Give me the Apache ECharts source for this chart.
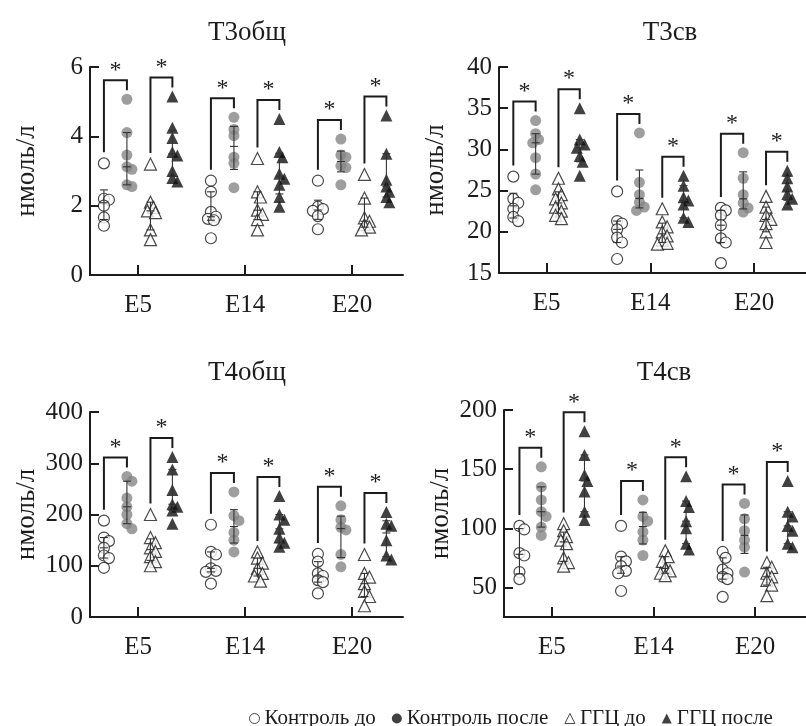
<!DOCTYPE html>
<html><head><meta charset="utf-8">
<script src="https://cdn.jsdelivr.net/npm/echarts@6/dist/echarts.min.js"></script>
<style>html,body{margin:0;padding:0;background:#fff}#c{width:806px;height:726px}</style>
</head><body><div id="c"></div>
<script>
// ---------- DATA ----------
const categories = ['E5', 'E14', 'E20'];
const groupNames = ['Контроль до', 'Контроль после', 'ГГЦ до', 'ГГЦ после'];
const panelTitles = ['Т3общ', 'Т3св', 'Т4общ', 'Т4св'];
const yAxisName = 'нмоль/л';
const t4freeTicks = [50, 100, 150, 200];

// each array: [E5 values, E14 values, E20 values]
const t3tot_ctrlBefore = [[3.22,2.2,2.17,2.0,1.66,1.42],[2.72,2.4,1.82,1.68,1.62,1.58,1.06],[2.72,1.97,1.9,1.85,1.7,1.32]];
const t3tot_ctrlAfter  = [[5.07,4.11,3.46,3.12,3.05,2.6,2.55],[4.55,4.2,4.02,3.4,3.22,2.52],[3.92,3.46,3.4,3.15,3.1,2.6]];
const t3tot_ggcBefore  = [[3.2,2.1,1.95,1.85,1.8,1.3,1.02],[3.36,2.4,2.25,1.87,1.75,1.6,1.3],[2.9,2.22,1.65,1.55,1.45,1.38,1.3]];
const t3tot_ggcAfter   = [[5.15,4.25,3.95,3.55,3.45,3.0,2.8,2.7],[4.5,3.55,3.4,2.92,2.78,2.6,2.25,1.97],[4.6,3.5,2.75,2.55,2.4,2.25,2.1]];

const t3free_ctrlBefore = [[26.7,24.0,23.5,22.8,21.8,21.3],[24.9,21.3,21.0,20.3,19.3,18.7,16.7],[22.9,22.6,22.0,20.8,19.2,18.7,16.2]];
const t3free_ctrlAfter  = [[33.5,31.9,31.2,30.8,29.0,27.0,25.1],[32.0,26.0,24.5,23.6,23.0,22.6],[29.6,26.5,24.5,23.5,22.9,22.4]];
const t3free_ggcBefore  = [[26.5,25.2,24.5,24.0,23.5,23.0,22.5,22.0,21.6],[22.8,21.2,20.6,20.0,19.5,19.0,18.6,18.5],[24.3,23.0,22.0,21.5,21.0,20.0,18.7]];
const t3free_ggcAfter   = [[35.0,31.2,30.6,30.2,29.2,28.5,26.8],[26.8,25.6,24.2,23.8,23.3,21.7,21.2],[27.4,26.5,25.5,24.6,24.0,23.3]];

const t4tot_ctrlBefore = [[188,155,148,135,120,115,96],[180,127,122,95,90,88,65],[123,108,85,80,72,68,46]];
const t4tot_ctrlAfter  = [[274,265,232,215,200,182,172],[244,198,188,165,150,127],[217,190,175,170,122,98]];
const t4tot_ggcBefore  = [[200,155,145,135,128,118,108,100],[127,115,105,95,85,80,70],[122,85,78,65,50,40,22]];
const t4tot_ggcAfter   = [[312,288,248,220,215,208,182],[236,200,190,172,155,145,137],[205,182,178,150,120,112]];

const t4free_ctrlBefore = [[102,99,79,77,63,57],[102,76,72,68,64,62,47],[80,75,65,62,59,57,42]];
const t4free_ctrlAfter  = [[152,135,124,114,110,101,94],[124,110,106,97,90,77],[121,108,98,90,84,63]];
const t4free_ggcBefore  = [[104,98,93,90,87,75,71,68],[81,76,72,66,64,62,60],[71,67,62,59,56,52,43]];
const t4free_ggcAfter   = [[182,162,145,140,131,114,107],[144,123,118,106,100,87,82],[140,114,110,102,98,87,84]];

// ---------- LAYOUT / STYLE ----------
const FONT = 'Liberation Serif';
const INK = '#1c1c1c';
const panels = [
  {groups:[t3tot_ctrlBefore,t3tot_ctrlAfter,t3tot_ggcBefore,t3tot_ggcAfter], left:90, top:67, height:208, xmin:-0.45, xmax:2.475, unit:107, ymin:0, ymax:6, interval:2},
  {groups:[t3free_ctrlBefore,t3free_ctrlAfter,t3free_ggcBefore,t3free_ggcAfter], left:499, top:67, height:206, xmin:-0.458, xmax:2.5, unit:107, ymin:15, ymax:40, interval:5},
  {groups:[t4tot_ctrlBefore,t4tot_ctrlAfter,t4tot_ggcBefore,t4tot_ggcAfter], left:90, top:412, height:205, xmin:-0.45, xmax:2.475, unit:107, ymin:0, ymax:400, interval:100},
  {groups:[t4free_ctrlBefore,t4free_ctrlAfter,t4free_ggcBefore,t4free_ggcAfter], left:504, top:410, height:207, xmin:-0.472, xmax:2.5, unit:106, ymin:25, ymax:200, custom:t4freeTicks}
];
const titlePos = [[247,33],[670,33],[247,373],[664,373]];
const groupOffset = [-0.32, -0.105, 0.115, 0.32];
const symbols = ['circle','circle','triangle','triangle'];
const sizes = [11, 11, 12, 12];
const styles = [
  {color:'#fff', borderColor:INK, borderWidth:1.2},
  {color:'#868686'},
  {color:'#fff', borderColor:INK, borderWidth:1.2},
  {color:'#111'}
];

function quant(sorted, p){ // GraphPad-style percentile
  const n = sorted.length; let pos = p*(n+1);
  if (pos < 1) pos = 1; if (pos > n) pos = n;
  const lo = Math.floor(pos), hi = Math.ceil(pos);
  return sorted[lo-1] + (pos-lo)*(sorted[hi-1]-sorted[lo-1]);
}
function swarm(vals, pxPerY){
  const order = vals.map((v,i)=>i).sort((a,b)=>vals[b]-vals[a]);
  const placed = []; const off = new Array(vals.length).fill(0);
  const cands = [0,3,-3,5,-5];
  for (const i of order){
    const y = vals[i]*pxPerY; let best = 0, bestD = -1;
    for (const c of cands){
      let d = Infinity; for (const p of placed) d = Math.min(d, Math.hypot(p.x-c, p.y-y));
      if (d >= 6) { best = c; bestD = d; break; }
      if (d > bestD){ bestD = d; best = c; }
    }
    off[i] = best; placed.push({x:best, y});
  }
  return off;
}

const grid = [], xAxis = [], yAxis = [], series = [], graphic = [];
panels.forEach((P, pi) => {
  grid.push({left:P.left, top:P.top, width:(P.xmax-P.xmin)*P.unit, height:P.height});
  xAxis.push({type:'value', gridIndex:pi, min:P.xmin, max:P.xmax,
    axisLine:{show:true, onZero:false, lineStyle:{color:INK, width:2}},
    axisTick:{show:true, inside:true, length:10, customValues:[0,1,2], lineStyle:{color:INK, width:2}},
    axisLabel:{customValues:[0,1,2], formatter:v=>categories[Math.round(v)], fontSize:25, fontFamily:FONT, color:INK, margin:18},
    splitLine:{show:false}});
  const ya = {type:'value', gridIndex:pi, min:P.ymin, max:P.ymax,
    axisLine:{show:true, onZero:false, lineStyle:{color:INK, width:2}},
    axisTick:{show:true, inside:true, length:9, lineStyle:{color:INK, width:2}},
    axisLabel:{fontSize:25, fontFamily:FONT, color:INK, margin:7},
    splitLine:{show:false},
    name:yAxisName, nameLocation:'middle', nameGap:50, nameRotate:90,
    nameTextStyle:{fontSize:27, fontFamily:FONT, color:INK}};
  if (P.custom){ ya.axisLabel.customValues = P.custom; ya.axisTick.customValues = P.custom; }
  else ya.interval = P.interval;
  yAxis.push(ya);
  const pxPerY = P.height/(P.ymax-P.ymin);
  const errData = [], brData = [];
  P.groups.forEach((arr, g) => {
    const pts = [];
    arr.forEach((vals, ci) => {
      const off = swarm(vals, pxPerY);
      vals.forEach((v, k) => pts.push([ci + groupOffset[g] + off[k]/P.unit, v]));
      const s = vals.slice().sort((a,b)=>a-b);
      errData.push([ci + groupOffset[g], quant(s,0.25), quant(s,0.5), quant(s,0.75)]);
    });
    series.push({type:'scatter', name:groupNames[g], xAxisIndex:pi, yAxisIndex:pi,
      symbol:symbols[g], symbolSize:sizes[g], itemStyle:styles[g], data:pts, z:2,
      emphasis:{disabled:true}});
  });
  for (let ci=0; ci<3; ci++){
    for (const [a,b] of [[0,1],[2,3]]){
      brData.push([ci+groupOffset[a], ci+groupOffset[b], Math.max(...P.groups[a][ci]), Math.max(...P.groups[b][ci])]);
    }
  }
  series.push({type:'custom', name:'err'+pi, xAxisIndex:pi, yAxisIndex:pi, z:4, silent:true,
    encode:{x:0, y:[1,2,3]}, data:errData,
    renderItem:(params, api)=>{
      const x = api.value(0);
      const a = api.coord([x, api.value(1)]), m = api.coord([x, api.value(2)]), b = api.coord([x, api.value(3)]);
      const st = {stroke:'#333', lineWidth:1.1}; const w = 4;
      return {type:'group', children:[
        {type:'line', shape:{x1:a[0], y1:a[1], x2:b[0], y2:b[1]}, style:st},
        {type:'line', shape:{x1:a[0]-w, y1:a[1], x2:a[0]+w, y2:a[1]}, style:st},
        {type:'line', shape:{x1:b[0]-w, y1:b[1], x2:b[0]+w, y2:b[1]}, style:st},
        {type:'line', shape:{x1:m[0]-w, y1:m[1], x2:m[0]+w, y2:m[1]}, style:st}
      ]};
    }});
  series.push({type:'custom', name:'br'+pi, xAxisIndex:pi, yAxisIndex:pi, z:4, silent:true,
    encode:{x:[0,1], y:[2,3]}, data:brData,
    renderItem:(params, api)=>{
      const l = api.coord([api.value(0), api.value(2)]), r = api.coord([api.value(1), api.value(3)]);
      const top = Math.min(l[1], r[1]) - 19;
      return {type:'group', children:[
        {type:'polyline', shape:{points:[[l[0], l[1]-11],[l[0], top],[r[0], top],[r[0], r[1]-9]]},
          style:{stroke:INK, lineWidth:2, fill:null}},
        {type:'text', x:(l[0]+r[0])/2, y:top-10,
          style:{text:'*', fontSize:24, fontFamily:FONT, fill:INK, align:'center', verticalAlign:'middle'}}
      ]};
    }});
  graphic.push({type:'text', x:titlePos[pi][0], y:titlePos[pi][1],
    style:{text:panelTitles[pi], fontSize:27, fontFamily:FONT, fill:INK, align:'center', verticalAlign:'middle'}});
});

const chart = echarts.init(document.getElementById('c'), null, {renderer:'canvas'});
chart.setOption({
  animation:false,
  textStyle:{fontFamily:FONT},
  grid, xAxis, yAxis, series, graphic,
  legend:{left:244, top:703, itemWidth:10, itemHeight:10, itemGap:16, selectedMode:false,
    textStyle:{fontSize:21, fontFamily:FONT, color:INK},
    data:[
      {name:groupNames[0], icon:'circle', itemStyle:{color:'#fff', borderColor:INK, borderWidth:1}},
      {name:groupNames[1], icon:'circle', itemStyle:{color:'#111'}},
      {name:groupNames[2], icon:'triangle', itemStyle:{color:'#fff', borderColor:INK, borderWidth:1}},
      {name:groupNames[3], icon:'triangle', itemStyle:{color:'#111'}}
    ]}
});
</script></body></html>
